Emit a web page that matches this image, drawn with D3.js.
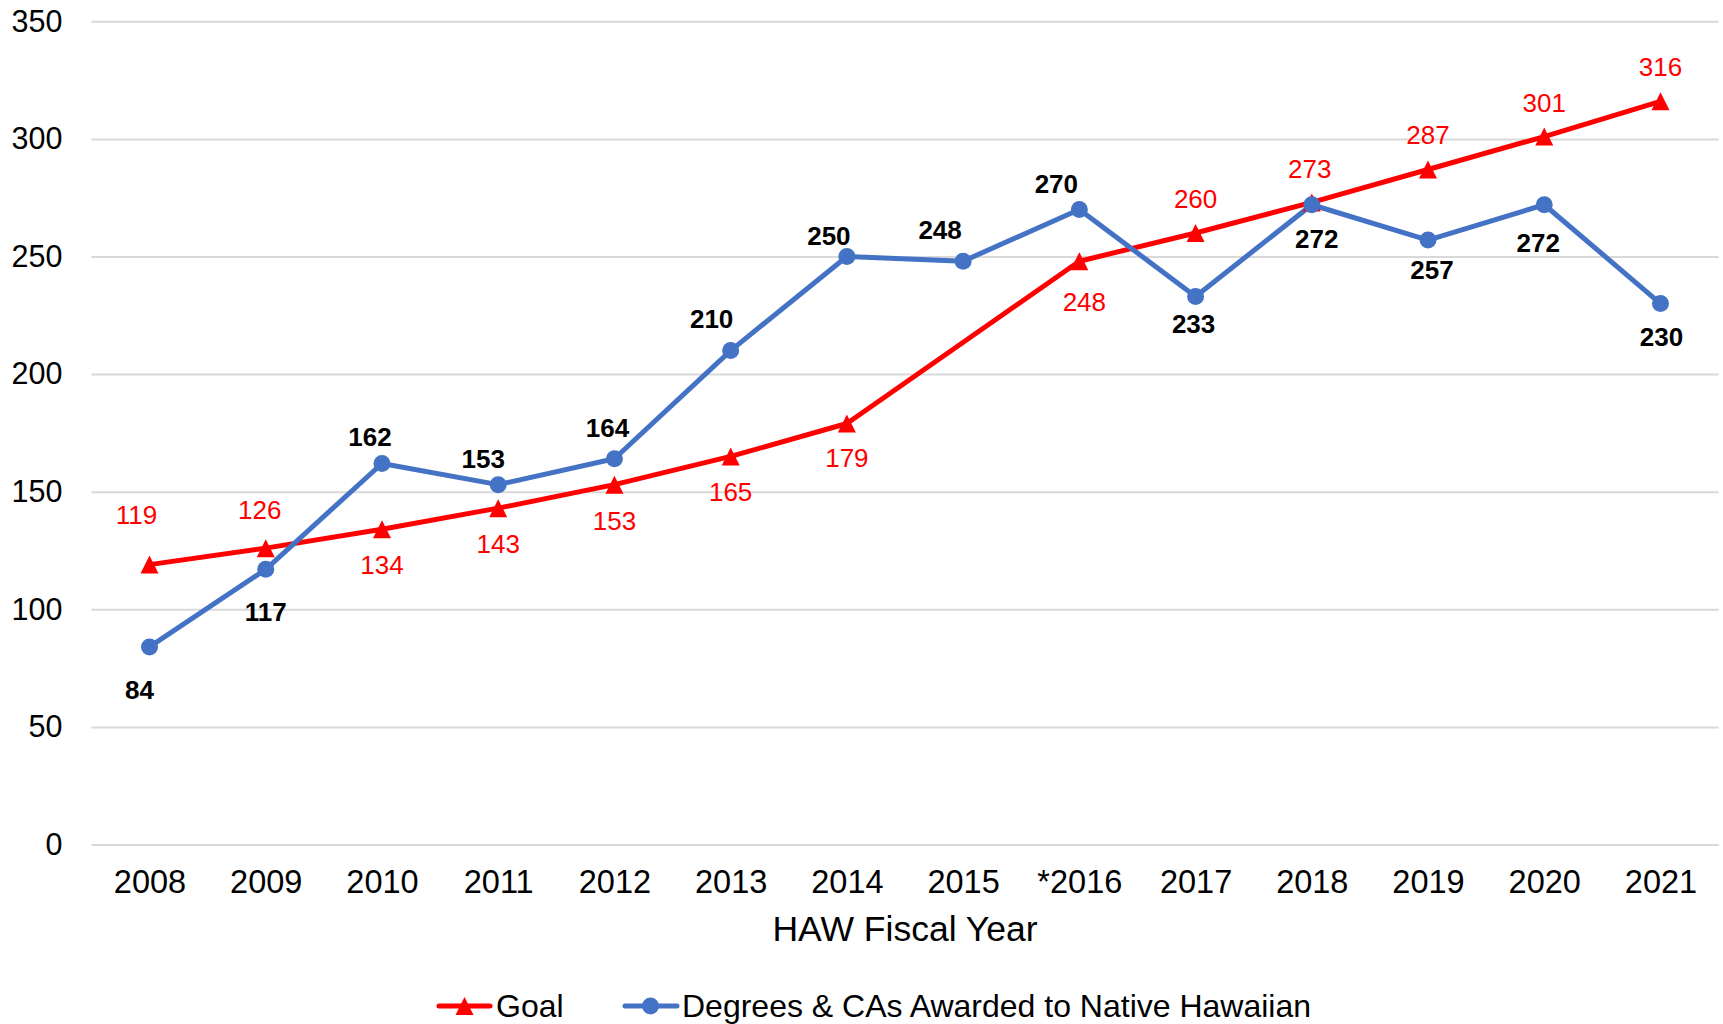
<!DOCTYPE html>
<html>
<head>
<meta charset="utf-8">
<script src="https://cdn.jsdelivr.net/npm/d3@7"></script>
<style>
  html, body { margin: 0; padding: 0; background: #fff; }
  svg { display: block; font-family: "Liberation Sans", Arial, sans-serif; }
</style>
</head>
<body>
<svg id="chart" width="1723" height="1024"></svg>
<script>
// ---- data ----
const years = ["2008","2009","2010","2011","2012","2013","2014","2015","*2016","2017","2018","2019","2020","2021"];
const goalValues = [119,126,134,143,153,165,179,null,248,260,273,287,301,316];
const degreeValues = [84,117,162,153,164,210,250,248,270,233,272,257,272,230];
const yTicks = [0,50,100,150,200,250,300,350];
const seriesNames = ["Goal", "Degrees & CAs Awarded to Native Hawaiian"];
const axisTitle = "HAW Fiscal Year";

// label placement offsets (relative to each point), style only
const goalLabelOffsets = [[-13,-50],[-6,-38],[0,36],[0,36],[0,36],[0,36],[0,35],null,[5,41],[0,-34],[-2,-33],[0,-34],[0,-34],[0,-34]];
const degreeLabelOffsets = [[-10,43],[0,43],[-12,-26],[-15,-26],[-7,-31],[-19,-32],[-18,-21],[-23,-31],[-23,-25],[-2,28],[5,34],[4,30],[-6,38],[1,33]];

const RED = "#FF0000", BLUE = "#4472C4", GRID = "#D9D9D9";

const svg = d3.select("#chart");
const plotLeft = 91.4, plotRight = 1718.6, plotTop = 21.3, plotBottom = 844.5;

const x = d3.scalePoint().domain(years).range([plotLeft, plotRight]).padding(0.5);
const y = d3.scaleLinear().domain([0, 350]).range([plotBottom, plotTop]);

// gridlines + y labels
const yAxis = svg.append("g")
  .attr("transform", `translate(${plotLeft},0)`)
  .call(d3.axisLeft(y).tickValues(yTicks).tickSize(-(plotRight - plotLeft)).tickPadding(29).tickFormat(d3.format("d")));
yAxis.select(".domain").remove();
yAxis.selectAll(".tick line").attr("stroke", GRID).attr("stroke-width", 2);
yAxis.selectAll(".tick text").attr("font-size", 30.5).attr("fill", "#000").attr("font-family", "Liberation Sans, Arial, sans-serif");

// x labels
const xAxis = svg.append("g")
  .attr("transform", `translate(0,${plotBottom})`)
  .call(d3.axisBottom(x).tickSize(0).tickPadding(25.5));
xAxis.select(".domain").remove();
xAxis.selectAll(".tick text").attr("font-size", 32.5).attr("fill", "#000").attr("font-family", "Liberation Sans, Arial, sans-serif");

// axis title
svg.append("text")
  .attr("x", (plotLeft + plotRight) / 2).attr("y", 941)
  .attr("text-anchor", "middle").attr("font-size", 35.5).attr("fill", "#000")
  .text(axisTitle);

// triangle symbol (Excel style: width = height)
const tri = {
  draw(ctx, size) {
    const w = Math.sqrt(size);
    ctx.moveTo(0, -w / 2);
    ctx.lineTo(w / 2, w / 2);
    ctx.lineTo(-w / 2, w / 2);
    ctx.closePath();
  }
};

const goalData = years.map((yr, i) => ({ yr, v: goalValues[i], off: goalLabelOffsets[i] })).filter(d => d.v !== null);
const degData = years.map((yr, i) => ({ yr, v: degreeValues[i], off: degreeLabelOffsets[i] }));

const line = d3.line().x(d => x(d.yr)).y(d => y(d.v));

// Goal line
svg.append("path").datum(goalData)
  .attr("d", line).attr("fill", "none").attr("stroke", RED).attr("stroke-width", 5)
  .attr("stroke-linejoin", "round").attr("stroke-linecap", "round");

// Degrees line
svg.append("path").datum(degData)
  .attr("d", line).attr("fill", "none").attr("stroke", BLUE).attr("stroke-width", 5)
  .attr("stroke-linejoin", "round").attr("stroke-linecap", "round");

// Goal markers
svg.append("g").selectAll("path").data(goalData).join("path")
  .attr("transform", d => `translate(${x(d.yr)},${y(d.v)})`)
  .attr("d", d3.symbol().type(tri).size(18 * 18))
  .attr("fill", RED);

// Degree markers
svg.append("g").selectAll("circle").data(degData).join("circle")
  .attr("cx", d => x(d.yr)).attr("cy", d => y(d.v)).attr("r", 8.5)
  .attr("fill", BLUE);

// Goal labels
svg.append("g").selectAll("text").data(goalData).join("text")
  .attr("x", d => x(d.yr) + d.off[0]).attr("y", d => y(d.v) + d.off[1])
  .attr("text-anchor", "middle").attr("dominant-baseline", "central")
  .attr("font-size", 26).attr("fill", RED)
  .text(d => d.v);

// Degree labels
svg.append("g").selectAll("text").data(degData).join("text")
  .attr("x", d => x(d.yr) + d.off[0]).attr("y", d => y(d.v) + d.off[1])
  .attr("text-anchor", "middle").attr("dominant-baseline", "central")
  .attr("font-size", 26).attr("font-weight", "bold").attr("fill", "#000")
  .text(d => d.v);

// Legend
const legendY = 1006;
const lg = svg.append("g");
// Goal
lg.append("line").attr("x1", 439).attr("x2", 490).attr("y1", legendY).attr("y2", legendY)
  .attr("stroke", RED).attr("stroke-width", 5).attr("stroke-linecap", "round");
lg.append("path").attr("transform", `translate(464.5,${legendY})`)
  .attr("d", d3.symbol().type(tri).size(18 * 18)).attr("fill", RED);
lg.append("text").attr("x", 496).attr("y", legendY).attr("dominant-baseline", "central")
  .attr("font-size", 32).attr("fill", "#000").text(seriesNames[0]);
// Degrees
lg.append("line").attr("x1", 625).attr("x2", 677).attr("y1", legendY).attr("y2", legendY)
  .attr("stroke", BLUE).attr("stroke-width", 5).attr("stroke-linecap", "round");
lg.append("circle").attr("cx", 650.5).attr("cy", legendY).attr("r", 8.5).attr("fill", BLUE);
lg.append("text").attr("x", 682).attr("y", legendY).attr("dominant-baseline", "central")
  .attr("font-size", 32).attr("fill", "#000").text(seriesNames[1]);
</script>
</body>
</html>
